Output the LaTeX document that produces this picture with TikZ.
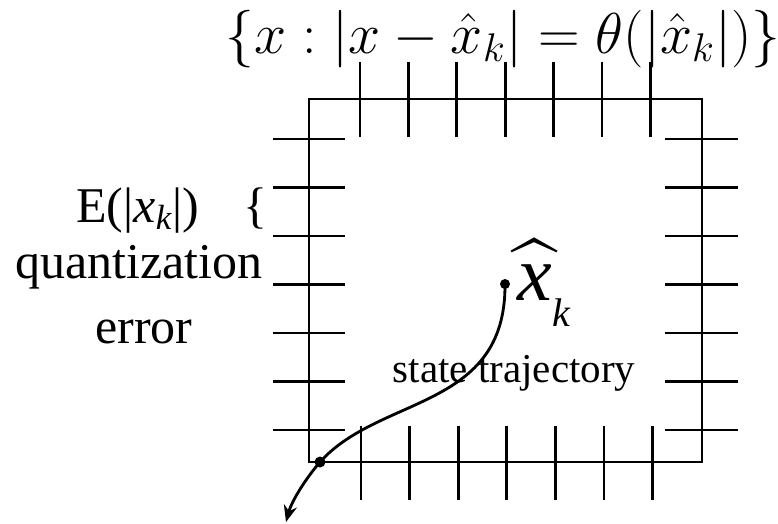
\documentclass[tikz,border=0pt]{standalone}
\usepackage{amsmath}
\usepackage{fontspec}
\setmainfont{Liberation Serif}
\usetikzlibrary{arrows.meta,positioning}

\begin{document}
\begin{tikzpicture}[x=0.3pt,y=-0.3pt,line width=0.85pt,
    dot/.style={circle,fill,inner sep=0pt,minimum size=3pt},
    lbl/.style={anchor=base,inner sep=0pt,font=\fontsize{15}{18}\selectfont}]
  \useasboundingbox (0,0) rectangle (778,523);

  % Quantization box
  \draw (309,99) rectangle (702,462);

  % Ticks on top and bottom edges
  \foreach \i in {0,...,6} {
    \draw ({360+48.4*\i},62) -- ({360+48.4*\i},137);
    \draw ({361+48.6*\i},426) -- ({361+48.6*\i},500);
  }
  % Ticks on left and right edges
  \foreach \i in {0,...,6} {
    \draw (273,{139+48.5*\i}) -- (345,{139+48.5*\i});
    \draw (665,{139+48.5*\i}) -- (738,{139+48.5*\i});
  }

  % Labels
  \node[anchor=base,inner sep=0pt,font=\fontsize{16.8}{20}\selectfont] (set) at (503,53)
    {$\{x : |x-\hat{x}_k| = \theta(|\hat{x}_k|)\}$};
  \node[lbl] (mean) at (138,222) {E(|$\textit{x}_{\textit{k}}$|)};
  \node[lbl] (brace) at (255,222) {\{};
  \node[lbl] (quant) at (139,278) {quantization};
  \node[lbl] (error) at (144,343) {error};
  \node[anchor=base west,inner sep=0pt] (xklab) at (516,300)
    {\fontsize{23.4}{28}\selectfont$\widehat{\textit{x}}$\raisebox{-8pt}{\fontsize{12}{14}\selectfont\itshape k}};
  \node[anchor=base,inner sep=0pt,font=\fontsize{12.3}{15}\selectfont] (traj) at (514,382) {state trajectory};

  % State trajectory
  \node[dot] (xk) at (505,284) {};
  \node[dot,minimum size=3.3pt] (x0) at (320,462) {};
  \coordinate (tip) at (286,522);
  \draw[-{Stealth[length=5pt,width=4pt]}] (xk.center)
    .. controls (506,410) and (380,395) .. (x0.center)
    .. controls (307,477) and (292,500) .. (tip);
\end{tikzpicture}
\end{document}
